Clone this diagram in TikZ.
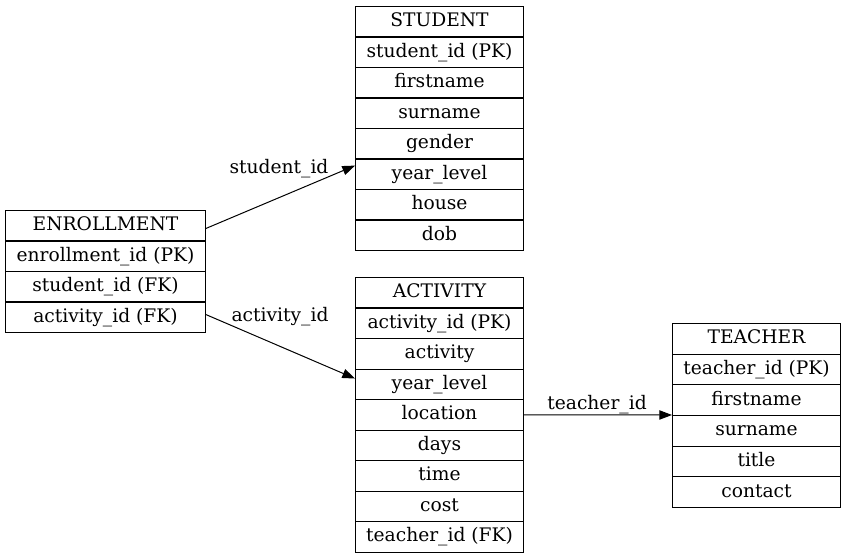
\documentclass[tikz,border=0pt]{standalone}
\usepackage{fontspec}
\setmainfont{DejaVu Serif}
\usetikzlibrary{arrows.meta}
\begin{document}
\begin{tikzpicture}[x=0.75pt,y=-0.75pt,
  cell/.style={draw, line width=0.75pt, rectangle, anchor=north west, inner sep=0pt,
    minimum height=22.9pt, text height=10.5pt, text depth=3pt,
    font=\fontsize{14}{16}\selectfont},
  narrow/.style={cell, minimum width=126pt},
  wide/.style={cell, minimum width=150pt},
  tcell/.style={cell, minimum width=126pt, minimum height=23pt},
  rel/.style={line width=0.75pt, -{Triangle[length=9.5pt,width=7pt]}},
  lbl/.style={inner sep=0pt, anchor=base, font=\fontsize{14}{16}\selectfont}]
\useasboundingbox (0,0) rectangle (845,559);
% STUDENT
\node[narrow] (s0) at (355,6) {STUDENT};
\node[narrow] (s1) at (355,36.5) {student\_id (PK)};
\node[narrow] (s2) at (355,67) {firstname};
\node[narrow] (s3) at (355,97.5) {surname};
\node[narrow] (s4) at (355,128) {gender};
\node[narrow] (s5) at (355,158.5) {year\_level};
\node[narrow] (s6) at (355,189) {house};
\node[narrow] (s7) at (355,219.5) {dob};
% ENROLLMENT
\node[wide] (e0) at (5,210) {ENROLLMENT};
\node[wide] (e1) at (5,240.5) {enrollment\_id (PK)};
\node[wide] (e2) at (5,271) {student\_id (FK)};
\node[wide] (e3) at (5,301.5) {activity\_id (FK)};
% ACTIVITY
\node[narrow] (a0) at (355,277) {ACTIVITY};
\node[narrow] (a1) at (355,307.5) {activity\_id (PK)};
\node[narrow] (a2) at (355,338) {activity};
\node[narrow] (a3) at (355,368.5) {year\_level};
\node[narrow] (a4) at (355,399) {location};
\node[narrow] (a5) at (355,429.5) {days};
\node[narrow] (a6) at (355,460) {time};
\node[narrow] (a7) at (355,490.5) {cost};
\node[narrow] (a8) at (355,521) {teacher\_id (FK)};
% TEACHER
\node[tcell] (t0) at (672,323) {TEACHER};
\node[tcell] (t1) at (672,353.67) {teacher\_id (PK)};
\node[tcell] (t2) at (672,384.33) {firstname};
\node[tcell] (t3) at (672,415) {surname};
\node[tcell] (t4) at (672,445.67) {title};
\node[tcell] (t5) at (672,476.33) {contact};
% relations
\draw[rel] ([yshift=-2pt]e0.east) -- ([yshift=6.5pt]s5.west);
\node[lbl] (l1) at (279,174) {student\_id};
\draw[rel] ([yshift=2pt]e3.east) -- ([yshift=4.3pt]a3.west);
\node[lbl] (l2) at (280,321) {activity\_id};
\draw[rel] (a4.east) -- (t3.north west);
\node[lbl] (l3) at (597,409.5) {teacher\_id};
\end{tikzpicture}
\end{document}
